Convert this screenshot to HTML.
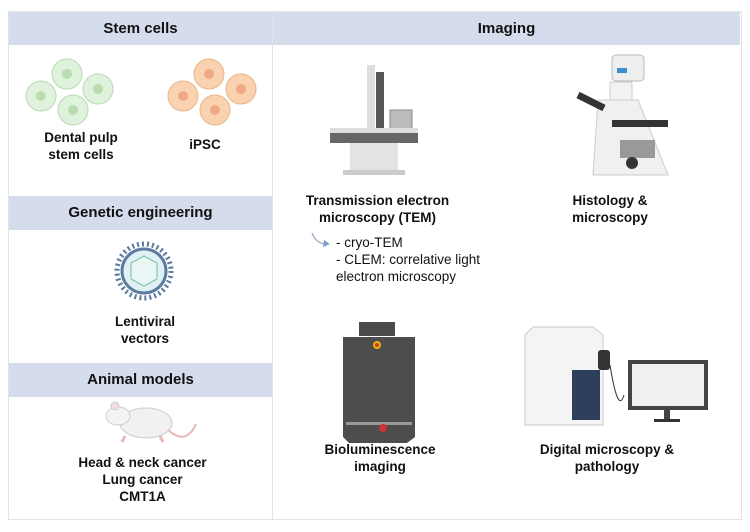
<!DOCTYPE html>
<html><head><meta charset="utf-8"><style>
body{margin:0;width:750px;height:532px;background:#fff;position:relative;font-family:"Liberation Sans",sans-serif;overflow:hidden}
.a{position:absolute}
.hd{position:absolute;background:#d5dcec;font-weight:bold;font-size:15px;color:#111;text-align:center}
.lb{position:absolute;font-weight:bold;font-size:13.5px;color:#111;text-align:center;line-height:17px}
.box{position:absolute;border:1px solid #e3e3e3}
</style></head><body>
<div class="box" style="left:8px;top:11px;width:732px;height:507px"></div>
<div class="a" style="left:272px;top:11px;width:1px;height:508px;background:#e3e3e3"></div>
<div class="hd" style="left:9px;top:12px;width:263px;height:33px;line-height:33px">Stem cells</div>
<div class="hd" style="left:273px;top:12px;width:467px;height:33px;line-height:33px">Imaging</div>
<div class="hd" style="left:9px;top:196px;width:263px;height:34px;line-height:34px">Genetic engineering</div>
<div class="hd" style="left:9px;top:363px;width:263px;height:34px;line-height:34px">Animal models</div>

<svg class="a" style="left:0;top:0" width="750" height="532">
<g fill="#dff2dc" stroke="#b9d9b3">
<circle cx="67" cy="74" r="15"/><circle cx="41" cy="96" r="15"/><circle cx="98" cy="89" r="15"/><circle cx="73" cy="110" r="15"/></g>
<g fill="#b9dcb0"><circle cx="67" cy="74" r="5"/><circle cx="41" cy="96" r="5"/><circle cx="98" cy="89" r="5"/><circle cx="73" cy="110" r="5"/></g>
<g fill="#fad2b0" stroke="#e8b68a">
<circle cx="209" cy="74" r="15"/><circle cx="183" cy="96" r="15"/><circle cx="241" cy="89" r="15"/><circle cx="215" cy="110" r="15"/></g>
<g fill="#f0a987"><circle cx="209" cy="74" r="5"/><circle cx="183" cy="96" r="5"/><circle cx="241" cy="89" r="5"/><circle cx="215" cy="110" r="5"/></g>
<!-- virus -->
<circle cx="144" cy="271" r="27" fill="none" stroke="#5b7aa0" stroke-width="5" stroke-dasharray="2 3"/>
<circle cx="144" cy="271" r="22" fill="#dff1f2" stroke="#5b7aa0" stroke-width="3"/>
<polygon points="144,256 157,263 157,279 144,286 131,279 131,263" fill="#eaf6f4" stroke="#7fb7ae"/>
<!-- mouse -->
<ellipse cx="146" cy="423" rx="26" ry="15" fill="#f1f1f1" stroke="#ccc"/>
<ellipse cx="118" cy="416" rx="12" ry="9" fill="#f4f4f4" stroke="#ccc"/>
<circle cx="115" cy="406" r="4" fill="#f4dcdc" stroke="#ccc"/>
<path d="M168 430 q18 16 28 -6" stroke="#e8b8b8" fill="none" stroke-width="2"/>
<line x1="125" y1="436" x2="122" y2="442" stroke="#e8b8b8" stroke-width="3"/>
<line x1="160" y1="436" x2="163" y2="442" stroke="#e8b8b8" stroke-width="3"/>
<!-- TEM -->
<rect x="367" y="65" width="8" height="70" fill="#ddd"/><rect x="376" y="72" width="8" height="60" fill="#555"/>
<rect x="390" y="110" width="22" height="20" fill="#bbb" stroke="#888"/>
<rect x="330" y="133" width="88" height="10" fill="#666"/><rect x="330" y="128" width="88" height="5" fill="#ddd"/>
<rect x="350" y="143" width="48" height="30" fill="#e3e3e3"/><rect x="343" y="170" width="62" height="5" fill="#ccc"/>
<!-- light microscope -->
<rect x="612" y="55" width="32" height="26" rx="4" fill="#eee" stroke="#bbb"/><rect x="617" y="68" width="10" height="5" fill="#3a8fd0"/>
<path d="M610 82 h22 v25 h-22z" fill="#f2f2f2" stroke="#ccc"/>
<path d="M598 100 h40 l30 75 h-75 z" fill="#f0f0f0" stroke="#ccc"/>
<rect x="612" y="120" width="56" height="7" fill="#333"/>
<line x1="578" y1="95" x2="604" y2="108" stroke="#333" stroke-width="7"/>
<rect x="620" y="140" width="35" height="18" fill="#999"/>
<circle cx="632" cy="163" r="6" fill="#333"/>
<!-- arrow -->
<path d="M312 233 q4 10 13 11" stroke="#9aaecc" fill="none" stroke-width="1.3"/>
<polygon points="324,240 330,244 323,247" fill="#7e9cc8"/>
<!-- bioluminescence -->
<rect x="359" y="322" width="36" height="14" fill="#4a4a4a"/>
<path d="M343 337 h72 v100 l-8 6 h-58 l-6 -6z" fill="#4d4d4d"/>
<circle cx="377" cy="345" r="4" fill="#f0b400"/><circle cx="377" cy="345" r="2" fill="#c33"/>
<rect x="346" y="422" width="66" height="3" fill="#999"/>
<circle cx="383" cy="428" r="4" fill="#c33"/>
<!-- digital microscope -->
<path d="M525 335 l8 -8 h60 l10 8 v90 h-78z" fill="#f4f4f4" stroke="#ccc"/>
<rect x="572" y="370" width="28" height="50" fill="#2d3f5a"/>
<rect x="598" y="350" width="12" height="20" rx="3" fill="#333"/>
<rect x="628" y="360" width="80" height="50" fill="#444"/><rect x="632" y="364" width="72" height="42" fill="#f1f1f1"/>
<rect x="664" y="410" width="6" height="10" fill="#444"/><rect x="654" y="419" width="26" height="3" fill="#333"/>
<path d="M610 365 q8 50 14 30" stroke="#333" fill="none"/>
</svg>

<div class="lb" style="left:16px;top:129px;width:130px">Dental pulp<br>stem cells</div>
<div class="lb" style="left:155px;top:136px;width:100px">iPSC</div>
<div class="lb" style="left:90px;top:313px;width:110px">Lentiviral<br>vectors</div>
<div class="lb" style="left:50px;top:454px;width:185px">Head &amp; neck cancer<br>Lung cancer<br>CMT1A</div>
<div class="lb" style="left:290px;top:192px;width:175px">Transmission electron<br>microscopy (TEM)</div>
<div class="lb" style="left:555px;top:192px;width:110px">Histology &amp;<br>microscopy</div>
<div class="a" style="left:336px;top:234px;font-size:13.5px;line-height:17px;color:#111">- cryo-TEM<br>- CLEM: correlative light<br>electron microscopy</div>
<div class="lb" style="left:310px;top:441px;width:140px">Bioluminescence<br>imaging</div>
<div class="lb" style="left:527px;top:441px;width:160px">Digital microscopy &amp;<br>pathology</div>
</body></html>
